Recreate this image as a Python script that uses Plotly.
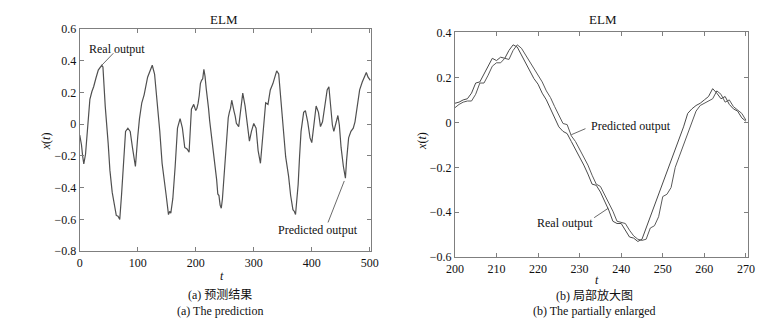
import plotly.graph_objects as go

# ---------------- data ----------------
# Panel (a): full series (real and predicted overlap at this scale)
t_full = [0, 3, 5, 7, 10, 13, 15, 17.5, 21, 24, 28, 32, 35, 38, 40, 44, 49, 52, 56, 60,
          63, 66, 69, 72, 75, 79, 83, 87, 91, 96, 100, 103, 107, 111, 117, 122, 125, 129,
          133.5, 138, 142, 146, 149, 153, 155, 157, 160.5, 164.5, 168.5, 173, 177, 181,
          185, 188.5, 192.5, 196.5, 200, 202, 204, 206, 208, 210, 212, 214, 216, 218, 220,
          222, 224, 226, 228, 230, 232, 234, 236, 238, 240, 242, 244, 246, 248, 250, 252,
          254, 256, 258, 260, 262, 264, 266, 268, 270, 274, 278, 281, 285, 289, 292.5,
          296, 300, 304, 307.5, 311.5, 316, 320.5, 324.5, 328.5, 333, 336, 339.5, 343, 347,
          351, 355, 360, 363.5, 367.5, 370, 372, 374, 376.5, 379, 381.5, 386, 389, 393,
          397, 400, 404, 407.5, 411.5, 415, 418.5, 422.5, 426.5, 429.5, 432, 435.5, 438,
          442, 445, 447.5, 450.5, 454.5, 458, 460, 463.5, 467.5, 471.5, 474.5, 479, 482.5,
          487, 491.5, 494, 497, 501]
x_full = [-0.07, -0.13, -0.20, -0.25, -0.19, -0.05, 0.08, 0.155, 0.205, 0.235, 0.29, 0.34,
          0.355, 0.37, 0.36, 0.11, -0.12, -0.29, -0.43, -0.51, -0.575, -0.58, -0.60, -0.45,
          -0.29, -0.046, -0.026, -0.046, -0.15, -0.267, -0.08, 0.034, 0.134, 0.184, 0.295,
          0.35, 0.37, 0.315, 0.154, -0.046, -0.247, -0.348, -0.448, -0.57, -0.55, -0.56,
          -0.468, -0.267, -0.026, 0.034, -0.026, -0.147, -0.157, -0.177, 0.094, 0.124,
          0.085, 0.10, 0.13, 0.18, 0.255, 0.275, 0.285, 0.345, 0.30, 0.225, 0.17, 0.10,
          0.02, -0.04, -0.085, -0.15, -0.23, -0.28, -0.35, -0.44, -0.45, -0.51, -0.53,
          -0.47, -0.37, -0.27, -0.17, -0.07, 0.04, 0.075, 0.10, 0.15, 0.105, 0.08, 0.05,
          0.005, -0.016, 0.094, 0.195, 0.114, -0.026, -0.107, -0.046, 0.004, -0.026,
          -0.167, -0.247, -0.046, 0.134, 0.124, 0.215, 0.255, 0.295, 0.335, 0.315, 0.134,
          -0.046, -0.207, -0.328, -0.448, -0.539, -0.55, -0.569, -0.50, -0.38, -0.20,
          -0.046, 0.074, 0.084, 0.014, -0.087, -0.117, 0.014, 0.114, 0.074, -0.016, 0.014,
          0.114, 0.215, 0.235, 0.134, -0.006, -0.046, 0.014, 0.054, -0.006, -0.147,
          -0.267, -0.34, -0.227, -0.087, -0.046, -0.026, 0.014, 0.114, 0.215, 0.265,
          0.305, 0.325, 0.295, 0.275]

# Panel (b): zoomed window t = 200..270
t_zoom = list(range(200, 271))
real_zoom = [0.085, 0.090, 0.100, 0.105, 0.130, 0.175, 0.180, 0.215, 0.255, 0.285,
             0.275, 0.290, 0.285, 0.320, 0.345, 0.335, 0.300, 0.265, 0.225, 0.195,
             0.170, 0.130, 0.100, 0.060, 0.020, -0.020, -0.040, -0.050, -0.085, -0.120,
             -0.150, -0.190, -0.230, -0.275, -0.280, -0.310, -0.350, -0.390, -0.440, -0.450,
             -0.450, -0.480, -0.510, -0.515, -0.530, -0.520, -0.470, -0.420, -0.370, -0.320,
             -0.270, -0.220, -0.170, -0.120, -0.070, -0.020, 0.040, 0.060, 0.075, 0.085,
             0.100, 0.115, 0.150, 0.130, 0.105, 0.115, 0.080, 0.060, 0.050, 0.020, 0.005]
pred_zoom = [0.065, 0.080, 0.090, 0.095, 0.095, 0.125, 0.175, 0.175, 0.210, 0.250,
             0.265, 0.265, 0.285, 0.280, 0.320, 0.345, 0.330, 0.300, 0.265, 0.235,
             0.205, 0.180, 0.140, 0.110, 0.070, 0.030, -0.005, -0.010, -0.060, -0.085,
             -0.120, -0.150, -0.190, -0.235, -0.275, -0.285, -0.320, -0.355, -0.395, -0.440,
             -0.445, -0.450, -0.480, -0.505, -0.520, -0.525, -0.520, -0.470, -0.460, -0.420,
             -0.330, -0.320, -0.290, -0.200, -0.150, -0.100, -0.050, 0.000, 0.050, 0.075,
             0.085, 0.095, 0.105, 0.140, 0.125, 0.090, 0.100, 0.070, 0.055, 0.040, 0.010]

xticks_a = [0, 100, 200, 300, 400, 500]
yticks_a = [-0.8, -0.6, -0.4, -0.2, 0, 0.2, 0.4, 0.6]
xticks_b = [200, 210, 220, 230, 240, 250, 260, 270]
yticks_b = [-0.6, -0.4, -0.2, 0, 0.2, 0.4]

# ---------------- figure ----------------
W, H = 782, 330
SERIF = "Liberation Serif, Times New Roman, serif"
CJK = "Liberation Serif, Noto Sans CJK SC, serif"
AX = "#7f7f7f"

def px_x(p):
    return p / W

def px_y(p):
    return 1 - p / H

fig = go.Figure()
fig.add_trace(go.Scatter(x=t_full, y=x_full, mode="lines", xaxis="x", yaxis="y",
                         line=dict(color="#505050", width=1.2), showlegend=False))
fig.add_trace(go.Scatter(x=t_zoom, y=real_zoom, mode="lines", xaxis="x2", yaxis="y2",
                         line=dict(color="#4a4a4a", width=1), showlegend=False))
fig.add_trace(go.Scatter(x=t_zoom, y=pred_zoom, mode="lines", xaxis="x2", yaxis="y2",
                         line=dict(color="#5a5a5a", width=1), showlegend=False))

axcommon = dict(showline=True, linecolor=AX, linewidth=1, mirror="ticks", ticks="inside",
                ticklen=4, tickcolor=AX, showgrid=False, zeroline=False,
                tickfont=dict(family=SERIF, size=12, color="#111"))

fig.update_layout(
    width=W, height=H, margin=dict(l=0, r=0, t=0, b=0),
    paper_bgcolor="white", plot_bgcolor="white",
    xaxis=dict(domain=[px_x(72.3), px_x(370)], range=[0, 502], tickvals=xticks_a,
               anchor="y", **axcommon),
    yaxis=dict(domain=[px_y(255), px_y(22.7)], range=[-0.8, 0.6], tickvals=yticks_a,
               anchor="x", **axcommon),
    xaxis2=dict(domain=[px_x(455.8), px_x(755)], range=[200, 270.4], tickvals=xticks_b,
                anchor="y2", **axcommon),
    yaxis2=dict(domain=[px_y(261.3), px_y(26.6)], range=[-0.6, 0.4], tickvals=yticks_b,
                anchor="x2", **axcommon),
)

txt = dict(family=SERIF, size=12, color="#111")
ann = []
def paper_text(x, y, s, size=12, italic=False, angle=0, font=SERIF):
    if italic:
        s = "<i>" + s + "</i>"
    ann.append(dict(x=px_x(x), y=px_y(y), xref="paper", yref="paper", text=s,
                    showarrow=False, textangle=angle, xanchor="center", yanchor="middle",
                    font=dict(family=font, size=size, color="#111")))

paper_text(220, 13, "ELM", size=13)
paper_text(607, 13, "ELM", size=13)
paper_text(38, 140, "x</i>(<i>t</i>)<i>", italic=True, angle=-90)
paper_text(422, 140, "x</i>(<i>t</i>)<i>", italic=True, angle=-90)
paper_text(218, 281, "t", italic=True)
paper_text(601, 285, "t", italic=True)
paper_text(216, 301, "(a) 预测结果", font=CJK)
paper_text(216, 317, "(a) The prediction")
paper_text(598, 301, "(b) 局部放大图", font=CJK)
paper_text(599, 317, "(b) The partially enlarged")

# data-anchored labels
ann.append(dict(x=65, y=0.47, xref="x", yref="y", text="Real output", showarrow=False,
                font=txt, xanchor="center", yanchor="middle"))
ann.append(dict(x=411, y=-0.668, xref="x", yref="y", text="Predicted output", showarrow=False,
                font=txt, xanchor="center", yanchor="middle"))
ann.append(dict(x=232.2, y=-0.017, xref="x2", yref="y2", text="Predicted output",
                showarrow=False, font=txt, xanchor="left", yanchor="middle"))
ann.append(dict(x=226.6, y=-0.449, xref="x2", yref="y2", text="Real output",
                showarrow=False, font=txt, xanchor="center", yanchor="middle"))
fig.update_layout(annotations=ann)

lc = dict(color="#444", width=0.8)
fig.add_shape(type="line", xref="x", yref="y", x0=58, y0=0.446, x1=38.5, y1=0.372, line=lc)
fig.add_shape(type="line", xref="x", yref="y", x0=428, y0=-0.619, x1=456, y1=-0.358, line=lc)
fig.add_shape(type="line", xref="x2", yref="y2", x0=231.4, y0=-0.028, x1=228.0, y1=-0.055, line=lc)
fig.add_shape(type="line", xref="x2", yref="y2", x0=233.5, y0=-0.424, x1=236.9, y1=-0.382, line=lc)

fig.write_html("out.html")
